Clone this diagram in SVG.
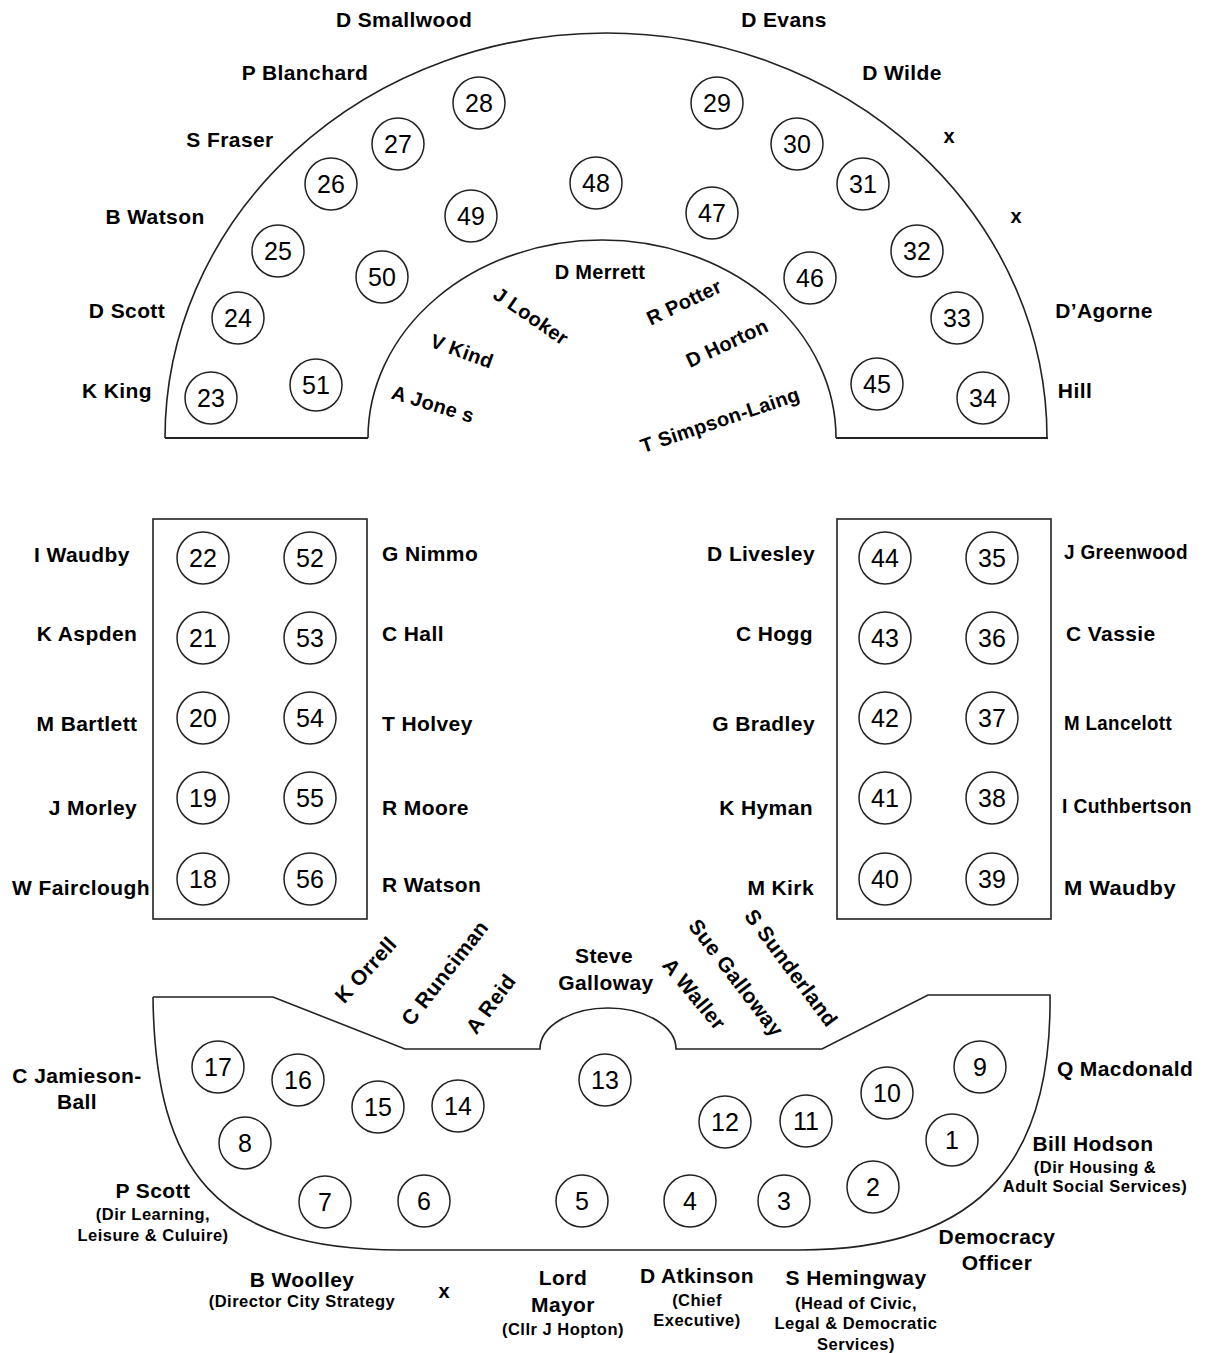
<svg xmlns="http://www.w3.org/2000/svg" width="1206" height="1354" viewBox="0 0 1206 1354">
<defs>
<style>
text{font-family:"Liberation Sans",Arial,sans-serif;fill:#000}
.l{font-weight:bold;font-size:21px;letter-spacing:0.4px;text-anchor:middle}
.s{font-weight:bold;font-size:16.5px;letter-spacing:0.5px;text-anchor:middle}
.st{text-anchor:start}
.en{text-anchor:end}
.x{font-weight:bold;font-size:20px;text-anchor:middle}
.r{font-weight:bold;font-size:20px;letter-spacing:0.3px;text-anchor:middle}
.n{font-size:25px;text-anchor:middle}
.seat{fill:#fff;stroke:#222;stroke-width:1.5}
.line{fill:none;stroke:#222;stroke-width:1.6}
.base{fill:none;stroke:#222;stroke-width:2.2}
</style>
</defs>
<rect width="1206" height="1354" fill="#fff"/>

<g id="connectors">
<path class="line" d="M165,438 A441,405 0 0 1 1047,438"/>
<path class="line" d="M368,438 A234,198 0 0 1 836,438"/>
<path class="base" d="M165,438 H368 M836,438 H1048"/>
<rect class="line" x="153" y="519" width="214" height="400"/>
<rect class="line" x="837" y="519" width="214" height="400"/>
<path class="line" d="M153,997 H273 L405,1049 H540 A68,41 0 0 1 676,1049 H822 L928,995 H1050 C1052,1150 990,1250 800,1250 H400 C215,1250 155,1170 153,997"/>
</g>

<g id="top-labels">
<text class="l" x="404" y="27">D Smallwood</text>
<text class="l" x="784" y="27">D Evans</text>
<text class="l" x="305" y="80">P Blanchard</text>
<text class="l" x="902" y="80">D Wilde</text>
<text class="l" x="230" y="147">S Fraser</text>
<text class="x" x="949" y="143">x</text>
<text class="l" x="155" y="224">B Watson</text>
<text class="x" x="1016" y="223">x</text>
<text class="l" x="127" y="318">D Scott</text>
<text class="l" x="1104" y="318">D’Agorne</text>
<text class="l" x="117" y="398">K King</text>
<text class="l" x="1075" y="398">Hill</text>
</g>

<g id="inner-labels">
<text class="r" x="600" y="279">D Merrett</text>
<text class="r" transform="translate(531,316) rotate(34.5)" x="0" y="7">J Looker</text>
<text class="r" transform="translate(462,351) rotate(20)" x="0" y="7">V Kind</text>
<text class="r" transform="translate(433,404) rotate(17)" x="0" y="7">A Jone s</text>
<text class="r" transform="translate(684,302) rotate(-25.6)" x="0" y="7">R Potter</text>
<text class="r" transform="translate(727,343) rotate(-25)" x="0" y="7">D Horton</text>
<text class="r" transform="translate(720,420) rotate(-18.6)" x="0" y="7">T Simpson-Laing</text>
</g>

<g id="seat-23"><circle class="seat" cx="211" cy="398" r="26"/><text class="n" x="211" y="407">23</text></g>
<g id="seat-24"><circle class="seat" cx="238" cy="318" r="26"/><text class="n" x="238" y="327">24</text></g>
<g id="seat-25"><circle class="seat" cx="278" cy="251" r="26"/><text class="n" x="278" y="260">25</text></g>
<g id="seat-26"><circle class="seat" cx="331" cy="184" r="26"/><text class="n" x="331" y="193">26</text></g>
<g id="seat-27"><circle class="seat" cx="398" cy="144" r="26"/><text class="n" x="398" y="153">27</text></g>
<g id="seat-28"><circle class="seat" cx="479" cy="103" r="26"/><text class="n" x="479" y="112">28</text></g>
<g id="seat-29"><circle class="seat" cx="717" cy="103" r="26"/><text class="n" x="717" y="112">29</text></g>
<g id="seat-30"><circle class="seat" cx="797" cy="144" r="26"/><text class="n" x="797" y="153">30</text></g>
<g id="seat-31"><circle class="seat" cx="863" cy="184" r="26"/><text class="n" x="863" y="193">31</text></g>
<g id="seat-32"><circle class="seat" cx="917" cy="251" r="26"/><text class="n" x="917" y="260">32</text></g>
<g id="seat-33"><circle class="seat" cx="957" cy="318" r="26"/><text class="n" x="957" y="327">33</text></g>
<g id="seat-34"><circle class="seat" cx="983" cy="398" r="26"/><text class="n" x="983" y="407">34</text></g>
<g id="seat-45"><circle class="seat" cx="877" cy="384" r="26"/><text class="n" x="877" y="393">45</text></g>
<g id="seat-46"><circle class="seat" cx="810" cy="278" r="26"/><text class="n" x="810" y="287">46</text></g>
<g id="seat-47"><circle class="seat" cx="712" cy="213" r="26"/><text class="n" x="712" y="222">47</text></g>
<g id="seat-48"><circle class="seat" cx="596" cy="183" r="26"/><text class="n" x="596" y="192">48</text></g>
<g id="seat-49"><circle class="seat" cx="471" cy="216" r="26"/><text class="n" x="471" y="225">49</text></g>
<g id="seat-50"><circle class="seat" cx="382" cy="277" r="26"/><text class="n" x="382" y="286">50</text></g>
<g id="seat-51"><circle class="seat" cx="316" cy="385" r="26"/><text class="n" x="316" y="394">51</text></g>

<g id="seat-22"><circle class="seat" cx="203" cy="558" r="26"/><text class="n" x="203" y="567">22</text></g>
<g id="seat-21"><circle class="seat" cx="203" cy="638" r="26"/><text class="n" x="203" y="647">21</text></g>
<g id="seat-20"><circle class="seat" cx="203" cy="718" r="26"/><text class="n" x="203" y="727">20</text></g>
<g id="seat-19"><circle class="seat" cx="203" cy="798" r="26"/><text class="n" x="203" y="807">19</text></g>
<g id="seat-18"><circle class="seat" cx="203" cy="879" r="26"/><text class="n" x="203" y="888">18</text></g>
<g id="seat-52"><circle class="seat" cx="310" cy="558" r="26"/><text class="n" x="310" y="567">52</text></g>
<g id="seat-53"><circle class="seat" cx="310" cy="638" r="26"/><text class="n" x="310" y="647">53</text></g>
<g id="seat-54"><circle class="seat" cx="310" cy="718" r="26"/><text class="n" x="310" y="727">54</text></g>
<g id="seat-55"><circle class="seat" cx="310" cy="798" r="26"/><text class="n" x="310" y="807">55</text></g>
<g id="seat-56"><circle class="seat" cx="310" cy="879" r="26"/><text class="n" x="310" y="888">56</text></g>

<g id="seat-44"><circle class="seat" cx="885" cy="558" r="26"/><text class="n" x="885" y="567">44</text></g>
<g id="seat-43"><circle class="seat" cx="885" cy="638" r="26"/><text class="n" x="885" y="647">43</text></g>
<g id="seat-42"><circle class="seat" cx="885" cy="718" r="26"/><text class="n" x="885" y="727">42</text></g>
<g id="seat-41"><circle class="seat" cx="885" cy="798" r="26"/><text class="n" x="885" y="807">41</text></g>
<g id="seat-40"><circle class="seat" cx="885" cy="879" r="26"/><text class="n" x="885" y="888">40</text></g>
<g id="seat-35"><circle class="seat" cx="992" cy="558" r="26"/><text class="n" x="992" y="567">35</text></g>
<g id="seat-36"><circle class="seat" cx="992" cy="638" r="26"/><text class="n" x="992" y="647">36</text></g>
<g id="seat-37"><circle class="seat" cx="992" cy="718" r="26"/><text class="n" x="992" y="727">37</text></g>
<g id="seat-38"><circle class="seat" cx="992" cy="798" r="26"/><text class="n" x="992" y="807">38</text></g>
<g id="seat-39"><circle class="seat" cx="992" cy="879" r="26"/><text class="n" x="992" y="888">39</text></g>

<g id="side-labels">
<text class="l" x="82" y="562">I Waudby</text>
<text class="l" x="87" y="641">K Aspden</text>
<text class="l" x="87" y="731">M Bartlett</text>
<text class="l" x="93" y="815">J Morley</text>
<text class="l" x="81" y="895">W Fairclough</text>
<text class="l st" x="382" y="561">G Nimmo</text>
<text class="l st" x="382" y="641">C Hall</text>
<text class="l st" x="382" y="731">T Holvey</text>
<text class="l st" x="382" y="815">R Moore</text>
<text class="l st" x="382" y="892">R Watson</text>
<text class="l en" x="815" y="561">D Livesley</text>
<text class="l en" x="813" y="641">C Hogg</text>
<text class="l en" x="815" y="731">G Bradley</text>
<text class="l en" x="813" y="815">K Hyman</text>
<text class="l en" x="814" y="895">M Kirk</text>
<text class="l st" x="1064" y="559" textLength="124" lengthAdjust="spacingAndGlyphs">J Greenwood</text>
<text class="l st" x="1066" y="641">C Vassie</text>
<text class="l st" x="1064" y="730" textLength="108" lengthAdjust="spacingAndGlyphs">M Lancelott</text>
<text class="l st" x="1062" y="813" textLength="130" lengthAdjust="spacingAndGlyphs">I Cuthbertson</text>
<text class="l st" x="1064" y="895" textLength="112" lengthAdjust="spacingAndGlyphs">M Waudby</text>
</g>

<g id="bench-labels">
<text class="l" transform="translate(366,970) rotate(-48)" x="0" y="7">K Orrell</text>
<text class="l" transform="translate(445,973) rotate(-52)" x="0" y="7">C Runciman</text>
<text class="l" transform="translate(491,1004) rotate(-53.5)" x="0" y="7">A Reid</text>
<text class="l" x="604" y="963">Steve</text>
<text class="l" x="606" y="990">Galloway</text>
<text class="l" transform="translate(694,994) rotate(50.5)" x="0" y="7">A Waller</text>
<text class="l" transform="translate(736,978) rotate(52.7)" x="0" y="7">Sue Galloway</text>
<text class="l" transform="translate(791,968) rotate(53.4)" x="0" y="7">S Sunderland</text>
</g>

<g id="seat-17"><circle class="seat" cx="218" cy="1067" r="26"/><text class="n" x="218" y="1076">17</text></g>
<g id="seat-16"><circle class="seat" cx="298" cy="1080" r="26"/><text class="n" x="298" y="1089">16</text></g>
<g id="seat-15"><circle class="seat" cx="378" cy="1107" r="26"/><text class="n" x="378" y="1116">15</text></g>
<g id="seat-14"><circle class="seat" cx="458" cy="1106" r="26"/><text class="n" x="458" y="1115">14</text></g>
<g id="seat-13"><circle class="seat" cx="605" cy="1080" r="26"/><text class="n" x="605" y="1089">13</text></g>
<g id="seat-12"><circle class="seat" cx="725" cy="1122" r="26"/><text class="n" x="725" y="1131">12</text></g>
<g id="seat-11"><circle class="seat" cx="806" cy="1121" r="26"/><text class="n" x="806" y="1130">11</text></g>
<g id="seat-10"><circle class="seat" cx="887" cy="1093" r="26"/><text class="n" x="887" y="1102">10</text></g>
<g id="seat-9"><circle class="seat" cx="980" cy="1067" r="26"/><text class="n" x="980" y="1076">9</text></g>
<g id="seat-1"><circle class="seat" cx="952" cy="1140" r="26"/><text class="n" x="952" y="1149">1</text></g>
<g id="seat-8"><circle class="seat" cx="245" cy="1143" r="26"/><text class="n" x="245" y="1152">8</text></g>
<g id="seat-2"><circle class="seat" cx="873" cy="1187" r="26"/><text class="n" x="873" y="1196">2</text></g>
<g id="seat-7"><circle class="seat" cx="325" cy="1202" r="26"/><text class="n" x="325" y="1211">7</text></g>
<g id="seat-6"><circle class="seat" cx="424" cy="1201" r="26"/><text class="n" x="424" y="1210">6</text></g>
<g id="seat-5"><circle class="seat" cx="582" cy="1201" r="26"/><text class="n" x="582" y="1210">5</text></g>
<g id="seat-4"><circle class="seat" cx="690" cy="1201" r="26"/><text class="n" x="690" y="1210">4</text></g>
<g id="seat-3"><circle class="seat" cx="784" cy="1201" r="26"/><text class="n" x="784" y="1210">3</text></g>

<g id="bottom-labels">
<text class="l" x="77" y="1083">C Jamieson-</text>
<text class="l" x="77" y="1109">Ball</text>
<text class="l" x="153" y="1198">P Scott</text>
<text class="s" x="153" y="1220">(Dir Learning,</text>
<text class="s" x="153" y="1241">Leisure &amp; Culuire)</text>
<text class="l" x="1125" y="1076">Q Macdonald</text>
<text class="l" x="1093" y="1151">Bill Hodson</text>
<text class="s" x="1095" y="1173">(Dir Housing &amp;</text>
<text class="s" x="1095" y="1192">Adult Social Services)</text>
<text class="l" x="997" y="1244">Democracy</text>
<text class="l" x="997" y="1270">Officer</text>
<text class="l" x="302" y="1287">B Woolley</text>
<text class="s" x="302" y="1307">(Director City Strategy</text>
<text class="x" x="444" y="1298">x</text>
<text class="l" x="563" y="1285">Lord</text>
<text class="l" x="563" y="1312">Mayor</text>
<text class="s" x="563" y="1335">(Cllr J Hopton)</text>
<text class="l" x="697" y="1283">D Atkinson</text>
<text class="s" x="697" y="1306">(Chief</text>
<text class="s" x="697" y="1326">Executive)</text>
<text class="l" x="856" y="1285">S Hemingway</text>
<text class="s" x="856" y="1309">(Head of Civic,</text>
<text class="s" x="856" y="1329">Legal &amp; Democratic</text>
<text class="s" x="856" y="1350">Services)</text>
</g>
</svg>
